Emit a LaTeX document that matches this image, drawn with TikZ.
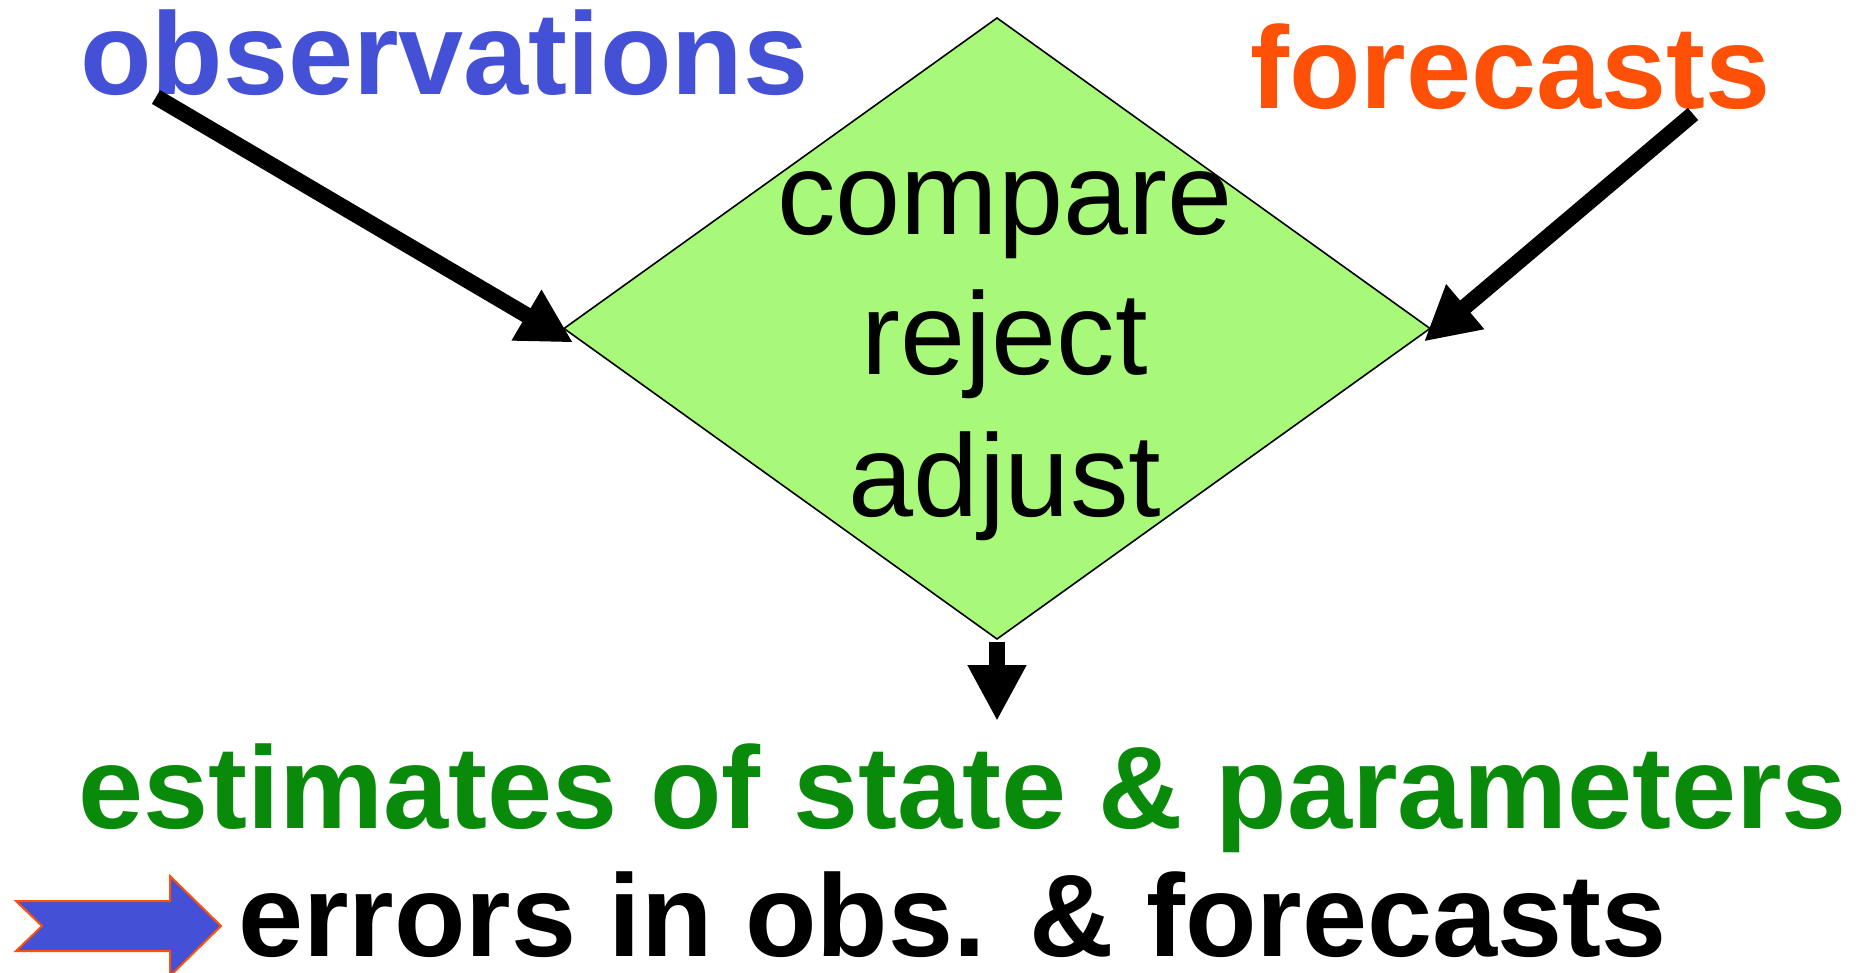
\documentclass[tikz,border=0pt]{standalone}
\usepackage{fontspec}
\setmainfont{Liberation Sans}
\usetikzlibrary{shapes.geometric,arrows.meta}
\definecolor{obsblue}{HTML}{4450D6}
\definecolor{fcorange}{HTML}{FF5008}
\definecolor{estgreen}{HTML}{0A8A0A}
\definecolor{dgreen}{HTML}{A8F87A}
\tikzset{
  bigbold/.style={font=\fontsize{117}{130}\selectfont\bfseries, inner sep=0pt, anchor=base west},
  inlabel/.style={font=\fontsize{117}{130}\selectfont, inner sep=0pt, anchor=base},
  bigarrow/.style={line width=16pt, -{Triangle[length=54pt 0 0,width=55pt 0 0]}},
  downarrow/.style={line width=16pt, -{Triangle[length=56pt 0 0,width=55pt 0 0]}},
}
\begin{document}
\begin{tikzpicture}[x=1pt,y=-1pt]
\useasboundingbox (0,0) rectangle (1863,973);
\clip (0,0) rectangle (1863,973);
% diamond
\node[diamond, draw=black, line width=1.6pt, fill=dgreen, minimum width=866pt, minimum height=621pt, inner sep=0pt, outer sep=0pt] (cmp) at (997,328.5) {};
\node[inlabel] (l1) at (1005,235) {compare};
\node[inlabel] (l2) at (1005,375) {reject};
\node[inlabel] (l3) at (1005,516) {adjust};
% titles
\node[bigbold, text=obsblue] (obs) at (80,95) {observations};
\node[bigbold, text=fcorange] (fc) at (1250,109) {forecasts};
\node[bigbold, text=estgreen] (est) at (78,828) {estimates of state \& parameters};
\node[bigbold, text=black, text depth=0pt] (err) at (238,956) {errors in obs. \& forecasts};
% connectors
\coordinate (obsS) at (156,97);
\coordinate (fcS) at (1693,114);
\coordinate (estT) at (997,721);
\draw[bigarrow] (obsS) -- ([shift={(9,14)}]cmp.west);
\draw[bigarrow] (fcS) -- ([shift={(-6,13)}]cmp.east);
\draw[downarrow] ([yshift=-3pt]cmp.south) -- (estT);
% blue block arrow
\draw[fill=obsblue, draw=fcorange, line width=2pt, line join=miter]
  (16,901) -- (170,901) -- (170,876) -- (221,926) -- (170,976) -- (170,951) -- (16,951) -- (42,926) -- cycle;
\end{tikzpicture}
\end{document}
